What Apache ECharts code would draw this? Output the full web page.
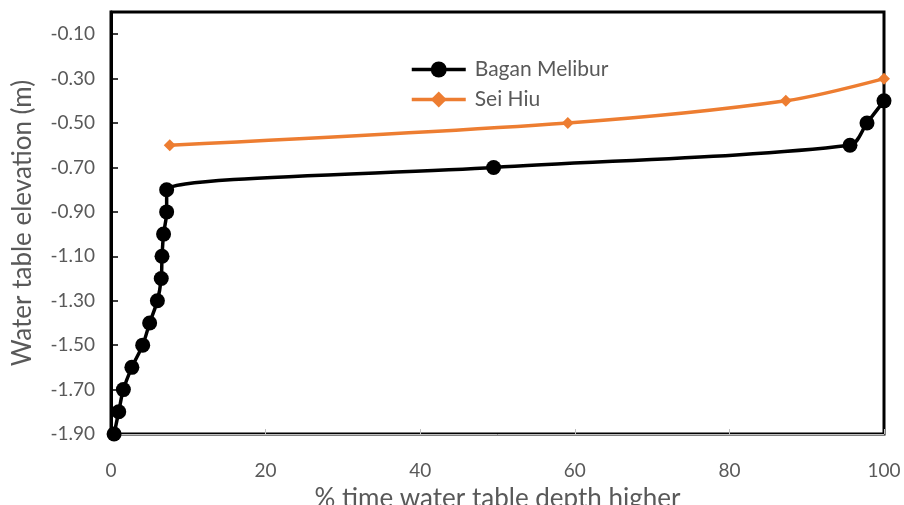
<!DOCTYPE html>
<html><head><meta charset="utf-8">
<script src="https://cdn.jsdelivr.net/npm/echarts@6/dist/echarts.min.js"></script>
<style>html,body{margin:0;padding:0;background:#fff}#c{width:904px;height:505px}</style>
</head><body><div id="c"></div>
<script>
const baganX = [0.4, 1.0, 1.6, 2.7, 4.1, 5.0, 6.0, 6.5, 6.6, 6.8, 7.2, 7.2, 49.5, 95.6, 97.8, 100];
const baganY = [-1.9, -1.8, -1.7, -1.6, -1.5, -1.4, -1.3, -1.2, -1.1, -1.0, -0.9, -0.8, -0.7, -0.6, -0.5, -0.4];
const seiX = [7.6, 59.1, 87.3, 100];
const seiY = [-0.6, -0.5, -0.4, -0.3];
const names = ['Bagan Melibur', 'Sei Hiu'];
const xTitle = '% time water table depth higher';
const yTitle = 'Water table elevation (m)';

const font = 'Lato, "Open Sans", sans-serif';
const chart = echarts.init(document.getElementById('c'));
chart.setOption({
  animation: false,
  grid: {left: 111, right: 20, top: 12, bottom: 71, show: true, borderColor: '#000', borderWidth: 3,
    backgroundColor: '#fff', containLabel: false, outerBoundsMode: 'none'},
  legend: {
    left: 405, top: 54, orient: 'vertical', itemGap: 9, itemWidth: 54, itemHeight: 20,
    lineStyle: {width: 3.5},
    textStyle: {fontFamily: font, fontSize: 21, color: '#595959', padding: [0,0,0,4]},
    data: names
  },
  xAxis: {
    type: 'value', min: 0, max: 100, interval: 20,
    name: xTitle, nameLocation: 'middle', nameGap: 52,
    nameTextStyle: {fontFamily: font, fontSize: 26, color: '#595959'},
    axisLine: {show: true, onZero: false, lineStyle: {color: '#bfbfbf', width: 1}},
    axisTick: {show: true, inside: true, length: 5, lineStyle: {color: '#bfbfbf'}},
    axisLabel: {fontFamily: font, fontSize: 19, color: '#595959', margin: 27},
    splitLine: {show: false}
  },
  yAxis: {
    type: 'value', min: -1.9, max: 0, interval: 0.2,
    name: yTitle, nameLocation: 'middle', nameGap: 75,
    nameTextStyle: {fontFamily: font, fontSize: 26, color: '#595959'},
    axisLine: {show: true, onZero: false, lineStyle: {color: '#000', width: 3}},
    axisTick: {show: true, inside: true, length: 7, lineStyle: {color: '#000', width: 1.5}},
    axisLabel: {fontFamily: font, fontSize: 19, color: '#595959', margin: 16,
      formatter: v => v > -0.05 ? '' : v.toFixed(2)},
    splitLine: {show: false}
  },
  series: [
    {
      name: names[0], type: 'line', smooth: 0.3,
      data: baganX.map((x, i) => [x, baganY[i]]),
      symbol: 'circle', symbolSize: 15,
      itemStyle: {color: '#000'},
      lineStyle: {color: '#000', width: 3.5},
      z: 3
    },
    {
      name: names[1], type: 'line', smooth: 0.3,
      data: seiX.map((x, i) => [x, seiY[i]]),
      symbol: 'diamond', symbolSize: 12,
      itemStyle: {color: '#ed7d31'},
      lineStyle: {color: '#ed7d31', width: 3.5},
      z: 2
    }
  ]
});
</script></body></html>
